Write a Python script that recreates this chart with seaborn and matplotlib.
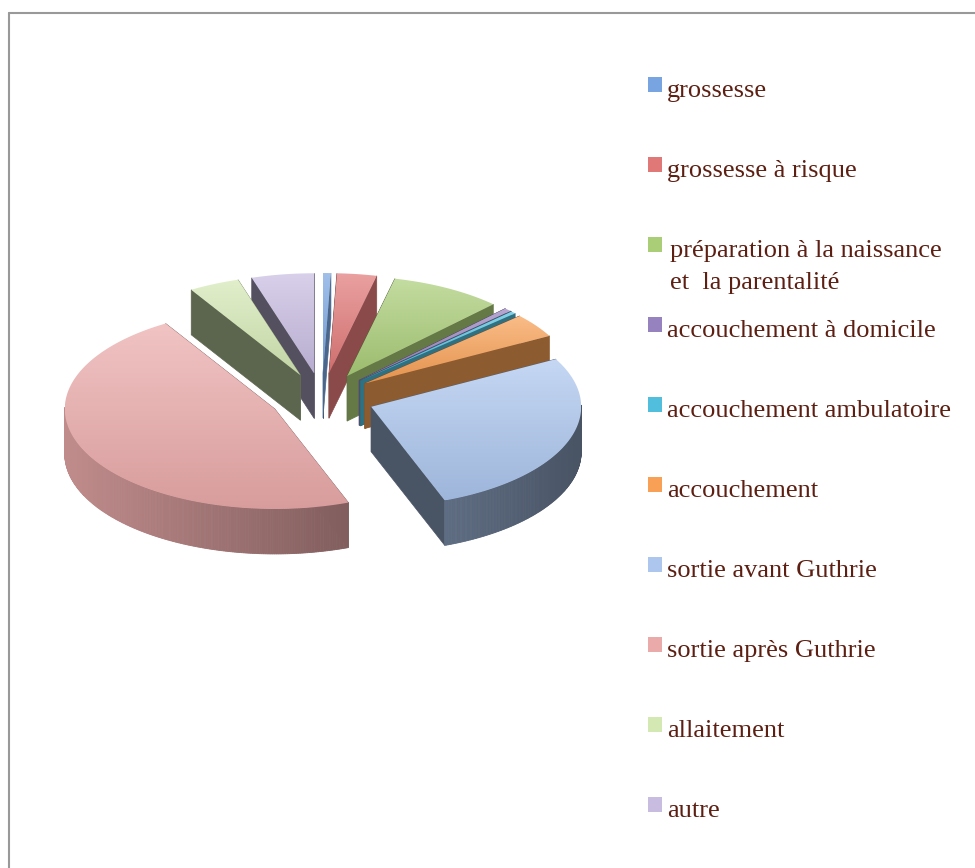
import numpy as np
import seaborn as sns
import matplotlib.pyplot as plt
from matplotlib.patches import Polygon, Rectangle
from matplotlib.lines import Line2D
from matplotlib.colors import to_rgb

# data
categories = ["grossesse", "grossesse à risque",
              "préparation à la naissance\net  la parentalité",
              "accouchement à domicile", "accouchement ambulatoire",
              "accouchement", "sortie avant Guthrie", "sortie après Guthrie",
              "allaitement", "autre"]
shares = [0.6, 3.05, 8.6, 0.55, 0.4, 3.9, 27.2, 47.0, 3.9, 4.8]
colors = ["#78a5e1", "#e17878", "#aacd78", "#9682be", "#50bedc",
          "#f8a055", "#acc6ee", "#ebaaaa", "#d4e8b4", "#c8bce1"]

sns.set_theme(style="white")
plt.rcParams['font.family'] = ['Liberation Serif', 'DejaVu Serif']

W, H = 975, 868
fig = plt.figure(figsize=(W / 100, H / 100), dpi=100)
fig.patch.set_facecolor("white")

# pie geometry in pixels (centre, radii, depth, explode)
cx, cy, rx, ry = 322, 398, 210, 100
depth = 45 / ry
explode = 0.25

ax = fig.add_axes([0, 0, 640 / W, 1])
ax.axis("off")


def pt(a, ox, oy):
    r = np.radians(a)
    return ox + np.sin(r), oy + np.cos(r)


# angles clockwise from 12 o'clock
vals = np.array(shares)
ends = np.cumsum(vals) / vals.sum() * 360
starts = ends - vals / vals.sum() * 360
mids = (starts + ends) / 2

order = np.argsort(-np.cos(np.radians(mids)))
z = 1
for i in order:
    a0, a1, m = starts[i], ends[i], mids[i]
    ox, oy = explode * np.sin(np.radians(m)), explode * np.cos(np.radians(m))
    base = np.array(to_rgb(colors[i]))
    arc = np.linspace(a0, a1, max(int(a1 - a0) * 2, 3))
    top = [(ox, oy)] + [pt(a, ox, oy) for a in arc]

    # radial walls, hidden ones first; shade by the way the wall faces
    walls = []
    for a, normal in [(a0, a0 - 90), (a1, a1 + 90)]:
        vis = np.cos(np.radians(normal)) < 0
        px, py = pt(a, ox, oy)
        quad = [(ox, oy), (px, py), (px, py - depth), (ox, oy - depth)]
        f = 0.52 + 0.1 * np.sin(np.radians(normal))
        walls.append((vis, quad, f))
    walls.sort(key=lambda w: w[0])
    for vis, quad, f in walls:
        c = np.clip(base * f, 0, 1)
        ax.add_patch(Polygon(quad, closed=True, facecolor=c, edgecolor=c,
                             lw=0.5, zorder=z))
        z += 1

    # outer curved wall
    for k in range(len(arc) - 1):
        am = (arc[k] + arc[k + 1]) / 2
        if np.cos(np.radians(am)) >= 0.02:
            continue
        p1 = pt(arc[k], ox, oy)
        p2 = pt(arc[k + 1], ox, oy)
        f = 0.62 - 0.2 * np.sin(np.radians(am))
        c = np.clip(base * f, 0, 1)
        quad = [p1, p2, (p2[0], p2[1] - depth), (p1[0], p1[1] - depth)]
        ax.add_patch(Polygon(quad, closed=True, facecolor=c, edgecolor=c,
                             lw=0.6, zorder=z))
    z += 1

    # top face with vertical gradient
    poly = Polygon(top, closed=True, facecolor="none", edgecolor="none", zorder=z)
    ax.add_patch(poly)
    xs = [p[0] for p in top]
    ys = [p[1] for p in top]
    g = np.linspace(0, 1, 120)[:, None, None]
    c_top = base + (1 - base) * 0.3
    c_bot = base * 0.92
    img = c_top * (1 - g) + c_bot * g
    im = ax.imshow(img, extent=[min(xs), max(xs), min(ys), max(ys)],
                   origin="upper", aspect="auto", interpolation="bilinear",
                   zorder=z)
    im.set_clip_path(poly)
    z += 1

ax.set_aspect("auto")
ax.set_xlim((0 - cx) / rx, (640 - cx) / rx)
ax.set_ylim((cy - H) / ry, cy / ry)

# legend, drawn by hand in pixel positions
txt_color = "#5c1f12"
for i, lab in enumerate(categories):
    yb = 97 + 80 * i
    fig.patches.append(Rectangle((648 / W, 1 - (yb - 5) / H), 14 / W, 15 / H,
                                 transform=fig.transFigure,
                                 facecolor=colors[i], edgecolor="none"))
    x0 = 670 if "\n" in lab else 667
    for k, line in enumerate(lab.split("\n")):
        fig.text(x0 / W, 1 - (yb + 32 * k) / H, line, fontsize=19,
                 color=txt_color, va="baseline", ha="left")

# chart frame
fig.add_artist(Line2D([9 / W, 1], [1 - 13 / H, 1 - 13 / H], color="#999999",
                      lw=1.5, transform=fig.transFigure))
fig.add_artist(Line2D([9 / W, 9 / W], [0, 1 - 13 / H], color="#999999",
                      lw=1.5, transform=fig.transFigure))

fig.savefig("out.png", dpi=100)
